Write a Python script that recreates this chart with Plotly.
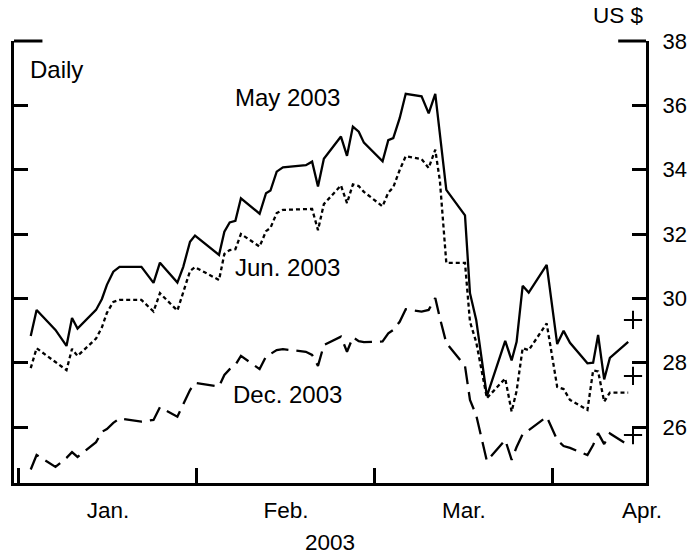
import plotly.graph_objects as go

# time in months since 1 Jan 2003 (0 = Jan, 1 = Feb, ...), futures prices in US $
t = [0.066, 0.099, 0.205, 0.267, 0.298, 0.329, 0.433, 0.466, 0.494, 0.530,
     0.565, 0.688, 0.756, 0.792, 0.890, 0.923, 0.961, 0.989, 1.124, 1.154,
     1.184, 1.216, 1.247, 1.352, 1.388, 1.413, 1.448, 1.483, 1.612, 1.647,
     1.680, 1.713, 1.809, 1.843, 1.876, 1.909, 1.938, 2.043, 2.075, 2.103,
     2.139, 2.173, 2.262, 2.302, 2.339, 2.365, 2.401, 2.506, 2.534, 2.569,
     2.629, 2.732, 2.768, 2.796, 2.830, 2.864, 2.965, 3.024, 3.060, 3.096,
     3.194, 3.226, 3.254, 3.288, 3.320, 3.423]

may03 = [28.83, 29.64, 29.02, 28.52, 29.39, 29.06, 29.64, 29.98, 30.42, 30.83,
         30.98, 30.98, 30.48, 31.11, 30.49, 30.98, 31.76, 31.95, 31.35, 32.07,
         32.36, 32.41, 33.11, 32.63, 33.27, 33.35, 33.94, 34.07, 34.14, 34.25,
         33.48, 34.34, 35.03, 34.43, 35.34, 35.18, 34.84, 34.26, 34.92, 34.98,
         35.60, 36.36, 36.28, 35.75, 36.36, 35.08, 33.37, 32.58, 30.16, 29.33,
         26.96, 28.68, 28.07, 28.65, 30.39, 30.18, 31.04, 28.58, 28.99, 28.62,
         27.98, 28.00, 28.86, 27.48, 28.15, 28.65]

jun03 = [27.83, 28.45, 28.02, 27.77, 28.43, 28.21, 28.75, 29.10, 29.55, 29.89,
         29.95, 29.95, 29.59, 30.16, 29.62, 30.16, 30.85, 30.97, 30.57, 31.38,
         31.50, 31.53, 32.00, 31.61, 32.09, 32.19, 32.65, 32.75, 32.76, 32.78,
         32.12, 32.93, 33.51, 32.96, 33.54, 33.49, 33.31, 32.86, 33.29, 33.45,
         33.99, 34.42, 34.33, 34.05, 34.62, 33.65, 31.10, 31.10, 29.27, 28.64,
         26.90, 27.51, 26.48, 27.12, 28.45, 28.39, 29.22, 27.25, 27.18, 26.84,
         26.53, 27.76, 27.73, 26.79, 27.07, 27.07]

dec03 = [24.68, 25.13, 24.76, 25.04, 25.22, 25.07, 25.53, 25.85, 25.94, 26.13,
         26.27, 26.17, 26.22, 26.62, 26.32, 26.72, 27.15, 27.37, 27.26, 27.62,
         27.80, 27.93, 28.21, 27.80, 28.19, 28.27, 28.39, 28.42, 28.34, 28.24,
         27.90, 28.55, 28.81, 28.34, 28.79, 28.67, 28.64, 28.66, 28.91, 29.02,
         29.27, 29.66, 29.59, 29.64, 30.01, 29.39, 28.61, 27.90, 26.84, 26.37,
         24.94, 25.60, 24.98, 25.38, 25.78, 25.90, 26.32, 25.60, 25.41, 25.35,
         25.13, 25.44, 25.81, 25.47, 25.80, 25.44]

# "+" marks at the right edge
plus_t = [3.45, 3.45, 3.45]
plus_v = [29.33, 27.59, 25.75]

months = ["Jan.", "Feb.", "Mar.", "Apr."]
month_pos = [0.5, 1.5, 2.5, 3.5]
yticks = [26, 28, 30, 32, 34, 36, 38]

FONT = "Liberation Sans, Arial, sans-serif"
TICK_FS = 22
NOTE_FS = 24

fig = go.Figure()
fig.add_trace(go.Scatter(x=t, y=may03, mode="lines", line=dict(color="black", width=2.3)))
fig.add_trace(go.Scatter(x=t, y=jun03, mode="lines", line=dict(color="black", width=2.3, dash="4px,3px")))
fig.add_trace(go.Scatter(x=t, y=dec03, mode="lines", line=dict(color="black", width=2.3, dash="18px,8px")))
fig.add_trace(go.Scatter(x=plus_t, y=plus_v, mode="markers",
                         marker=dict(symbol="cross-thin", size=13, line=dict(color="black", width=2))))

fig.update_layout(
    width=696, height=556,
    margin=dict(l=14, r=50, t=41, b=73),
    plot_bgcolor="white", paper_bgcolor="white",
    showlegend=False,
    font=dict(family=FONT, size=TICK_FS, color="black"),
)
fig.update_xaxes(
    range=[-0.028, 3.523], showgrid=False, zeroline=False, automargin=False,
    showline=True, linewidth=3, linecolor="black",
    tickvals=month_pos, ticktext=months, ticks="", ticklabelstandoff=5,
    tickfont=dict(size=22.5),
    minor=dict(tick0=0, dtick=1, ticks="inside", ticklen=15, tickwidth=2.5, tickcolor="black"),
    title=dict(text="2003", standoff=13, font=dict(size=22.5)),
)
fig.update_yaxes(
    range=[24.26, 38], side="right", showgrid=False, zeroline=False, automargin=False,
    showline=True, linewidth=3, linecolor="black", mirror="allticks",
    tickvals=yticks, ticks="inside", ticklen=14, tickwidth=2.5, tickcolor="black",
    ticklabelstandoff=9, tickfont=dict(size=TICK_FS),
)

# longer top ticks at 38 on both sides
fig.add_shape(type="line", xref="paper", yref="paper", x0=0, x1=0.045, y0=1, y1=1,
              line=dict(color="black", width=3))
fig.add_shape(type="line", xref="paper", yref="paper", x0=0.956, x1=1, y0=1, y1=1,
              line=dict(color="black", width=3))

fig.add_annotation(text="US $", xref="paper", yref="paper", x=1.0, y=1.0588,
                   xanchor="right", yanchor="middle", showarrow=False, font=dict(size=22.5))
fig.add_annotation(text="Daily", x=0.05, y=37.1, xanchor="left", yanchor="middle",
                   showarrow=False, font=dict(size=NOTE_FS))
fig.add_annotation(text="May 2003", x=1.511, y=36.23, showarrow=False, font=dict(size=NOTE_FS))
fig.add_annotation(text="Jun. 2003", x=1.511, y=30.97, showarrow=False, font=dict(size=NOTE_FS))
fig.add_annotation(text="Dec. 2003", x=1.511, y=27.0, showarrow=False, font=dict(size=NOTE_FS))

# drop the default page margin so the 696x556 figure fills the window exactly
fig.write_html("out.html", config={"displayModeBar": False},
               post_script="document.body.style.margin = '0';")
